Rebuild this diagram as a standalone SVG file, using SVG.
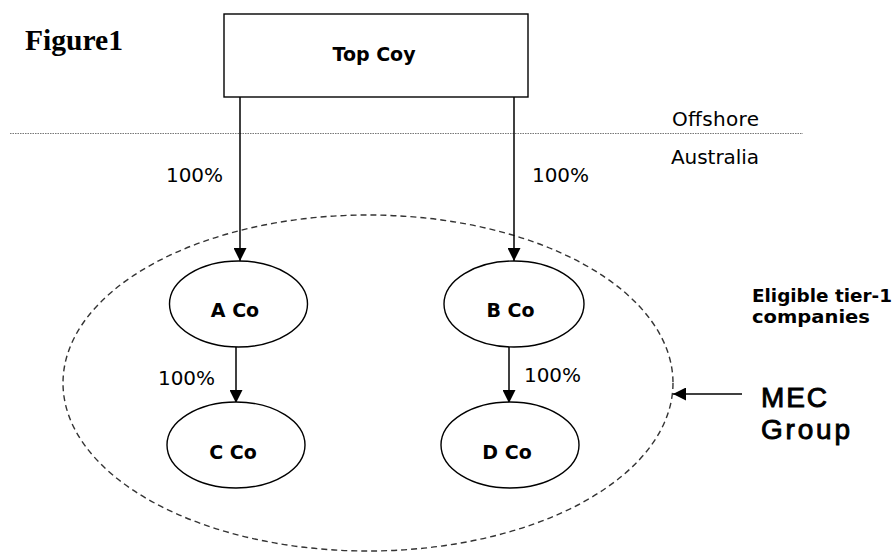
<svg xmlns="http://www.w3.org/2000/svg" width="895" height="552" viewBox="0 0 895 552">
<style>
.node{fill:#fff;stroke:#000;stroke-width:1.4}
.lbl{font-family:"DejaVu Sans",sans-serif;font-weight:bold;font-size:19px;fill:#000;text-anchor:middle}
.pct{font-family:"DejaVu Sans",sans-serif;font-size:20px;fill:#000}
.conn{stroke:#000;stroke-width:1.5;fill:none;marker-end:url(#ah)}
</style>
<defs>
<marker id="ah" markerUnits="userSpaceOnUse" markerWidth="13" markerHeight="13" refX="13" refY="6.5" orient="auto">
<path d="M0,0 L13,6.5 L0,13 z" fill="#000"/>
</marker>
</defs>
<rect width="895" height="552" fill="#fff"/>
<text x="25" y="50" font-family="Liberation Serif,serif" font-weight="bold" font-size="29" textLength="98" lengthAdjust="spacingAndGlyphs">Figure1</text>
<line x1="10" y1="133.5" x2="803" y2="133.5" stroke="#777" stroke-width="1" stroke-dasharray="1.5,1"/>
<text class="pct" x="672" y="126" textLength="87">Offshore</text>
<text class="pct" x="671" y="164" textLength="88">Australia</text>
<g id="mec-group">
<ellipse cx="368" cy="383" rx="305" ry="168" fill="none" stroke="#333" stroke-width="1.4" stroke-dasharray="6,4"/>
</g>
<g id="connectors">
<line class="conn" x1="240" y1="97" x2="240" y2="261"/>
<line class="conn" x1="514" y1="97" x2="514" y2="261"/>
<line class="conn" x1="236" y1="347" x2="236" y2="403"/>
<line class="conn" x1="509" y1="347" x2="509" y2="403"/>
<line class="conn" x1="742" y1="394" x2="673" y2="394"/>
<text class="pct" x="166" y="182" textLength="57">100%</text>
<text class="pct" x="532" y="182" textLength="57">100%</text>
<text class="pct" x="158" y="385" textLength="57">100%</text>
<text class="pct" x="524" y="382" textLength="57">100%</text>
</g>
<g id="top-coy">
<rect class="node" x="224" y="14" width="304" height="83"/>
<text class="lbl" x="374" y="61">Top Coy</text>
</g>
<g id="a-co">
<ellipse class="node" cx="238.5" cy="304" rx="69" ry="43"/>
<text class="lbl" x="235" y="317">A Co</text>
</g>
<g id="b-co">
<ellipse class="node" cx="514" cy="304" rx="70" ry="43"/>
<text class="lbl" x="510.5" y="317">B Co</text>
</g>
<g id="c-co">
<ellipse class="node" cx="236" cy="445" rx="69" ry="43"/>
<text class="lbl" x="233" y="459">C Co</text>
</g>
<g id="d-co">
<ellipse class="node" cx="510" cy="445" rx="69" ry="43"/>
<text class="lbl" x="507" y="459">D Co</text>
</g>
<g id="eligible-label">
<text x="752" y="302" font-family="DejaVu Sans,sans-serif" font-weight="bold" font-size="18" textLength="140" lengthAdjust="spacingAndGlyphs">Eligible tier-1</text>
<text x="752" y="323" font-family="DejaVu Sans,sans-serif" font-weight="bold" font-size="18" textLength="118" lengthAdjust="spacingAndGlyphs">companies</text>
</g>
<g id="mec-label">
<text x="761" y="407" font-family="Liberation Sans,sans-serif" font-size="28" stroke="#000" stroke-width="0.9" textLength="66">MEC</text>
<text x="761" y="439" font-family="Liberation Sans,sans-serif" font-size="28" stroke="#000" stroke-width="0.9" textLength="89">Group</text>
</g>
</svg>
